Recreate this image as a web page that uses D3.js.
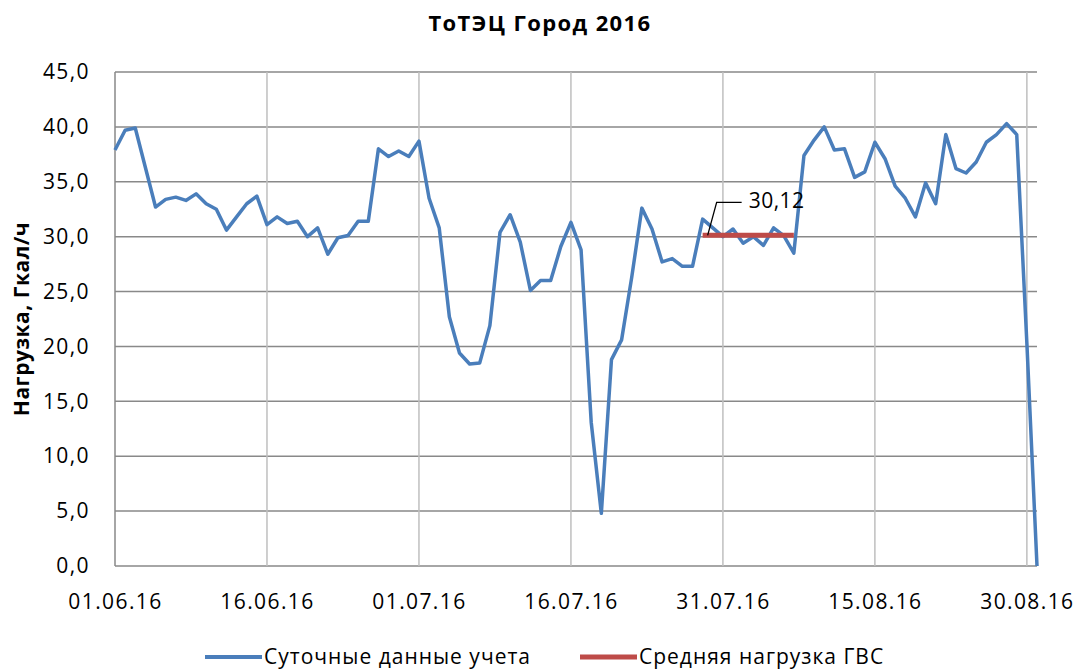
<!DOCTYPE html>
<html lang="ru">
<head>
<meta charset="UTF-8">
<script src="https://d3js.org/d3.v7.min.js"></script>
<style>
  html, body { margin: 0; padding: 0; background: #fff; }
  svg { display: block; font-family: "Open Sans", "Noto Sans", sans-serif; }
</style>
</head>
<body>
<svg id="chart" width="1078" height="672"></svg>
<script>
// daily values starting 01.06.2016
const startDate = '01.06.16';
const dailyLoad = [
  37.9, 39.7, 39.9, 36.3, 32.7, 33.4, 33.6, 33.3, 33.9, 33.0,
  32.5, 30.6, 31.8, 33.0, 33.7, 31.1, 31.8, 31.2, 31.4, 30.0,
  30.8, 28.4, 29.9, 30.1, 31.4, 31.4, 38.0, 37.3, 37.8, 37.3,
  38.7, 33.5, 30.8, 22.7, 19.4, 18.4, 18.5, 21.9, 30.4, 32.0,
  29.5, 25.1, 26.0, 26.0, 29.1, 31.3, 28.8, 13.1, 4.8, 18.8,
  20.6, 26.3, 32.6, 30.7, 27.7, 28.0, 27.3, 27.3, 31.6, 30.8,
  30.0, 30.7, 29.4, 30.0, 29.2, 30.8, 30.1, 28.5, 37.4, 38.8,
  40.0, 37.9, 38.0, 35.4, 35.9, 38.6, 37.1, 34.6, 33.5, 31.8,
  34.9, 33.0, 39.3, 36.2, 35.8, 36.8, 38.6, 39.3, 40.3, 39.3,
  20.3, 0.0
];
// average hot water load, shown over a short period
const avgDates = ['29.07.16', '07.08.16'];
const avgValue = 30.12;

const xTickLabels = ['01.06.16', '16.06.16', '01.07.16', '16.07.16', '31.07.16', '15.08.16', '30.08.16'];
const yTicks = [0, 5, 10, 15, 20, 25, 30, 35, 40, 45];

const title = 'ТоТЭЦ Город 2016';
const yTitle = 'Нагрузка, Гкал/ч';
const seriesNames = ['Суточные данные учета', 'Средняя нагрузка ГВС'];
const colors = ['#4a7ebb', '#be4b48'];

const parse = d3.timeParse('%d.%m.%y');
const start = parse(startDate);
const data = dailyLoad.map((v, i) => ({ date: d3.timeDay.offset(start, i), value: v }));

const plotLeft = 115, plotRight = 1037, plotTop = 72, plotBottom = 566;

const svg = d3.select('#chart');

const x = d3.scaleTime()
  .domain([start, data[data.length - 1].date])
  .range([plotLeft, plotRight]);
const y = d3.scaleLinear().domain([0, 45]).range([plotBottom, plotTop]);

const fmt = v => d3.format('.1f')(v).replace('.', ',');

// horizontal grid
svg.append('g')
  .selectAll('line')
  .data(yTicks)
  .enter()
  .append('line')
  .attr('x1', plotLeft)
  .attr('x2', plotRight)
  .attr('y1', d => y(d))
  .attr('y2', d => y(d))
  .attr('stroke', '#898989')
  .attr('stroke-width', 1.5);

// vertical grid
svg.append('g')
  .selectAll('line')
  .data(xTickLabels.slice(1))
  .enter()
  .append('line')
  .attr('x1', d => x(parse(d)))
  .attr('x2', d => x(parse(d)))
  .attr('y1', plotTop)
  .attr('y2', plotBottom)
  .attr('stroke', '#bfbfbf')
  .attr('stroke-width', 1.5);

// left axis line
svg.append('line')
  .attr('x1', plotLeft).attr('x2', plotLeft)
  .attr('y1', plotTop).attr('y2', plotBottom)
  .attr('stroke', '#898989')
  .attr('stroke-width', 1.5);

// y axis labels
const yAxis = svg.append('g')
  .attr('transform', `translate(${plotLeft},0)`)
  .call(d3.axisLeft(y).tickValues(yTicks).tickFormat(fmt).tickSize(0).tickPadding(25));
yAxis.select('.domain').remove();
yAxis.selectAll('text')
  .attr('font-size', 21)
  .attr('letter-spacing', 1.4)
  .attr('fill', '#000')
  .attr('font-family', '"Open Sans", sans-serif');

// x axis labels
const xAxis = svg.append('g')
  .attr('transform', `translate(0,${plotBottom})`)
  .call(d3.axisBottom(x)
    .tickValues(xTickLabels.map(parse))
    .tickFormat(d3.timeFormat('%d.%m.%y'))
    .tickSize(0)
    .tickPadding(28));
xAxis.select('.domain').remove();
xAxis.selectAll('text')
  .attr('font-size', 21)
  .attr('letter-spacing', 1.4)
  .attr('fill', '#000')
  .attr('font-family', '"Open Sans", sans-serif');

// daily series
const line = d3.line()
  .x(d => x(d.date))
  .y(d => y(d.value));

svg.append('path')
  .datum(data)
  .attr('d', line)
  .attr('fill', 'none')
  .attr('stroke', colors[0])
  .attr('stroke-width', 3.5)
  .attr('stroke-linejoin', 'round');

// average line
const avgData = avgDates.map(d => ({ date: parse(d), value: avgValue }));
svg.append('path')
  .datum(avgData)
  .attr('d', line)
  .attr('fill', 'none')
  .attr('stroke', colors[1])
  .attr('stroke-width', 5);

// data label with leader
const lx = x(parse(avgDates[0])) + 5;
const ly = y(avgValue);
svg.append('path')
  .attr('d', `M${lx},${ly} L${lx + 9},${ly - 33} L${lx + 34},${ly - 33}`)
  .attr('fill', 'none')
  .attr('stroke', '#000')
  .attr('stroke-width', 1.3);
svg.append('text')
  .attr('x', lx + 41)
  .attr('y', ly - 35)
  .attr('dy', '0.35em')
  .attr('font-size', 21)
  .attr('letter-spacing', 0.5)
  .text(d3.format('.2f')(avgValue).replace('.', ','));

// title
svg.append('text')
  .attr('x', 540)
  .attr('y', 31)
  .attr('text-anchor', 'middle')
  .attr('font-size', 22)
  .attr('letter-spacing', 1.4)
  .attr('font-weight', 'bold')
  .text(title);

// y title
svg.append('text')
  .attr('transform', `translate(29,${(plotTop + plotBottom) / 2}) rotate(-90)`)
  .attr('text-anchor', 'middle')
  .attr('font-size', 21)
  .attr('letter-spacing', 0.5)
  .attr('font-weight', 'bold')
  .text(yTitle);

// legend
const legendItems = [
  { name: seriesNames[0], color: colors[0], x: 205, w: 4 },
  { name: seriesNames[1], color: colors[1], x: 580, w: 5 }
];
const lg = svg.append('g')
  .selectAll('g')
  .data(legendItems)
  .enter()
  .append('g')
  .attr('transform', d => `translate(${d.x},657)`);
lg.append('line')
  .attr('x1', 0).attr('x2', 57)
  .attr('stroke', d => d.color)
  .attr('stroke-width', d => d.w);
lg.append('text')
  .attr('x', 59)
  .attr('dy', '0.35em')
  .attr('font-size', 21)
  .attr('letter-spacing', 1)
  .text(d => d.name);
</script>
</body>
</html>
